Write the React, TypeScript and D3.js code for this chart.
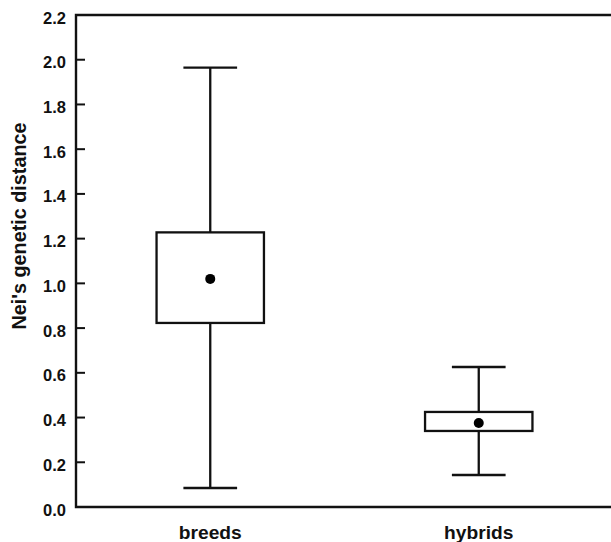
import React from "react";
import * as d3 from "d3";

// summary stats per group
const groups = ["breeds", "hybrids"];
const whiskerLow = [0.085, 0.143];
const boxLow = [0.823, 0.34];
const means = [1.02, 0.376];
const boxHigh = [1.228, 0.425];
const whiskerHigh = [1.965, 0.626];
const yTicks = [0, 0.2, 0.4, 0.6, 0.8, 1.0, 1.2, 1.4, 1.6, 1.8, 2.0, 2.2];

const width = 611;
const height = 542;
const margin = { top: 15, right: -2, bottom: 35, left: 76 };

export default function App() {
  const y = d3
    .scaleLinear()
    .domain([0, 2.2])
    .range([height - margin.bottom, margin.top]);
  const x = d3
    .scalePoint<string>()
    .domain(groups)
    .range([margin.left, width - margin.right])
    .padding(0.5);
  const step = x.step();
  const boxW = step * 0.4;
  const capW = step * 0.2;
  const font = "'Liberation Sans', Arial, sans-serif";
  const x0 = margin.left;
  const y0 = y(0);

  return (
    <svg
      width={width}
      height={height}
      style={{ position: "absolute", left: 0, top: 0, background: "#fff" }}
      fontFamily={font}
    >
      {/* frame: left, top, bottom */}
      <path
        d={`M${width},${y(2.2)}H${x0}V${y0}H${width}`}
        fill="none"
        stroke="#111"
        strokeWidth={2.4}
      />
      {yTicks.map((t) => (
        <g key={t}>
          {t > 0 && t < 2.2 && (
            <line x1={x0} x2={x0 + 9} y1={y(t)} y2={y(t)} stroke="#111" strokeWidth={2} />
          )}
          <text
            x={x0 - 10}
            y={y(t) + 8.5}
            textAnchor="end"
            fontSize={16.5}
            fontWeight="bold"
            fill="#111"
          >
            {d3.format(".1f")(t)}
          </text>
        </g>
      ))}
      <text
        transform={`translate(26,226) rotate(-90)`}
        textAnchor="middle"
        fontSize={19.8}
        fontWeight="bold"
        fill="#111"
      >
        Nei's genetic distance
      </text>
      {groups.map((g, i) => {
        const cx = x(g)!;
        return (
          <g key={g} stroke="#111" strokeWidth={2.3} fill="none">
            <line x1={cx} x2={cx} y1={y(whiskerHigh[i])} y2={y(boxHigh[i])} />
            <line x1={cx} x2={cx} y1={y(boxLow[i])} y2={y(whiskerLow[i])} />
            <line x1={cx - capW / 2} x2={cx + capW / 2} y1={y(whiskerHigh[i])} y2={y(whiskerHigh[i])} />
            <line x1={cx - capW / 2} x2={cx + capW / 2} y1={y(whiskerLow[i])} y2={y(whiskerLow[i])} />
            <rect
              x={cx - boxW / 2}
              y={y(boxHigh[i])}
              width={boxW}
              height={y(boxLow[i]) - y(boxHigh[i])}
              fill="#fff"
            />
            <circle cx={cx} cy={y(means[i])} r={5} fill="#000" stroke="none" />
            <text
              x={cx}
              y={539}
              textAnchor="middle"
              fontSize={19.2}
              fontWeight="bold"
              fill="#111"
              stroke="none"
            >
              {g}
            </text>
          </g>
        );
      })}
    </svg>
  );
}
